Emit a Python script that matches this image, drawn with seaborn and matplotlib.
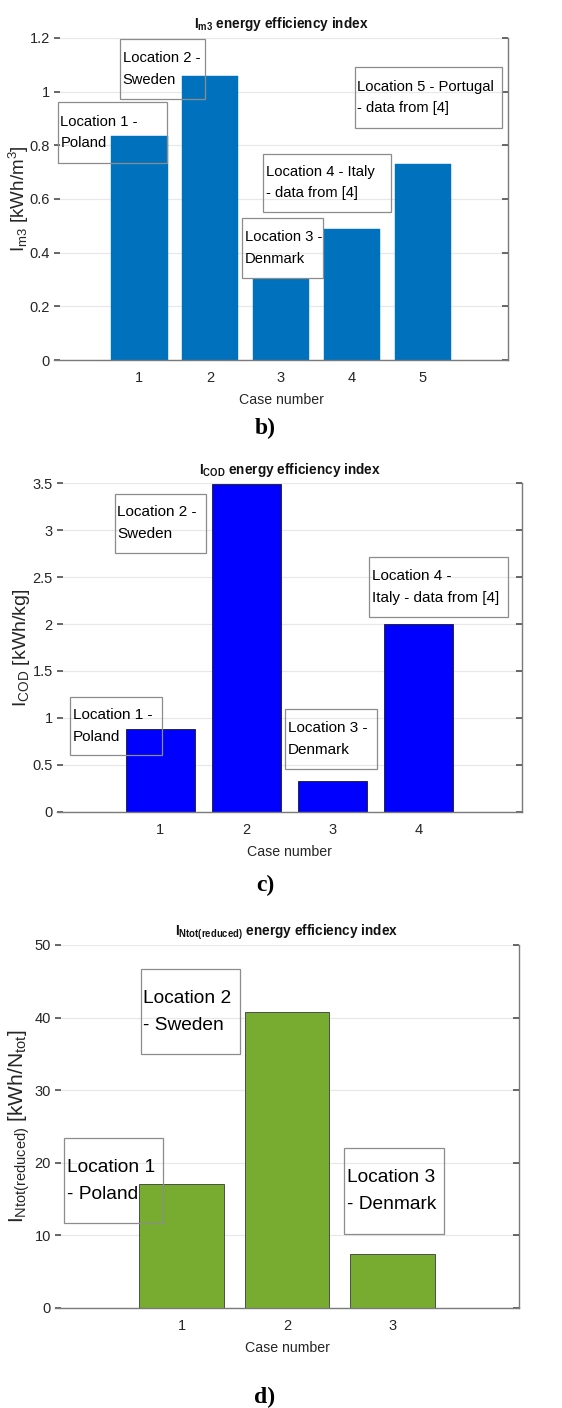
import numpy as np
import pandas as pd
import matplotlib
matplotlib.use("Agg")
import matplotlib.pyplot as plt
import seaborn as sns
from matplotlib.patches import Rectangle
from matplotlib.ticker import FuncFormatter

# ---------------- data ----------------
cases_b = [1, 2, 3, 4, 5]
im3_values = [0.835, 1.058, 0.30, 0.487, 0.73]
labels_b = ["Location 1 -\nPoland", "Location 2 -\nSweden", "Location 3 -\nDenmark",
            "Location 4 - Italy\n- data from [4]", "Location 5 - Portugal\n- data from [4]"]

cases_c = [1, 2, 3, 4]
icod_values = [0.88, 3.49, 0.33, 2.0]
labels_c = ["Location 1 -\nPoland", "Location 2 -\nSweden", "Location 3 -\nDenmark",
            "Location 4 -\nItaly - data from [4]"]

cases_d = [1, 2, 3]
intot_values = [17.0, 40.7, 7.4]
labels_d = ["Location 1\n- Poland", "Location 2\n- Sweden", "Location 3\n- Denmark"]

yticks_b = [0, 0.2, 0.4, 0.6, 0.8, 1.0, 1.2]
yticks_c = [0, 0.5, 1.0, 1.5, 2.0, 2.5, 3.0, 3.5]
yticks_d = [0, 10, 20, 30, 40, 50]

# annotation box layout (x0, x1, ytop, ybottom) in data units
boxes_b = [(-0.15, 1.39, 0.961, 0.734), (0.727, 1.929, 1.196, 0.973), (2.453, 3.598, 0.529, 0.306),
           (2.75, 4.546, 0.768, 0.552), (4.037, 6.116, 1.092, 0.865)]
boxes_c = [(-0.05, 1.023, 1.222, 0.604), (0.469, 1.531, 3.391, 2.762), (2.453, 3.514, 1.095, 0.455),
           (3.422, 5.037, 2.715, 2.075)]
boxes_d = [(-0.112, 0.826, 23.35, 11.64), (0.612, 1.551, 46.65, 34.93), (2.543, 3.488, 21.98, 10.16)]

# ---------------- style ----------------
sns.set_theme(style="white")
FAM = ["Liberation Sans", "DejaVu Sans"]
plt.rcParams["font.family"] = FAM
plt.rcParams["mathtext.fontset"] = "custom"
plt.rcParams["mathtext.rm"] = "Liberation Sans"
plt.rcParams["mathtext.it"] = "Liberation Sans"
plt.rcParams["mathtext.bf"] = "Liberation Sans:bold"

fig = plt.figure(figsize=(5.62, 14.08), dpi=100)
W, H = 562.0, 1408.0

def axes_px(x0, x1, ytop, ybot):
    return fig.add_axes([x0 / W, 1 - ybot / H, (x1 - x0) / W, (ybot - ytop) / H])

fmt = FuncFormatter(lambda v, p: "%g" % v)
TXT = "#262626"


def panel(ax, cases, vals, color, edge, lw, yticks, title, ylabel, labels, boxes,
          ann_size, ann_ls, ylab_size, ylab_pad):
    df = pd.DataFrame({"case": cases, "value": vals})
    sns.barplot(data=df, x="case", y="value", color=color, saturation=1,
                native_scale=True, width=0.8, edgecolor=edge, linewidth=lw, ax=ax, zorder=2)
    n = len(cases)
    ax.set_xlim(-0.2, n + 1.2)
    ax.set_ylim(yticks[0], yticks[-1])
    ax.set_xticks(cases)
    ax.set_yticks(yticks)
    ax.yaxis.set_major_formatter(fmt)
    ax.xaxis.set_major_formatter(fmt)
    ax.set_axisbelow(True)
    ax.yaxis.grid(True, color="#e8e8e8", lw=0.9)
    ax.xaxis.grid(False)
    for s in ["top", "left"]:
        ax.spines[s].set_visible(False)
    for s in ["bottom", "right"]:
        ax.spines[s].set_color("#7a7a7a")
        ax.spines[s].set_linewidth(1.0)
    ax.tick_params(axis="y", left=True, right=True, direction="in", length=4,
                   color="#555555", labelsize=10.5, labelcolor=TXT, pad=3)
    ax.tick_params(axis="x", bottom=True, direction="in", length=4,
                   color="#555555", labelsize=10.5, labelcolor=TXT, pad=8)
    ax.set_xlabel("Case number", fontsize=10.2, color=TXT, labelpad=6)
    ax.set_ylabel(ylabel, fontsize=ylab_size, color=TXT, labelpad=ylab_pad)
    ax.set_title(title, fontsize=9.8, fontweight="bold", color="#111111", pad=7)
    for lab, (x0, x1, yt, yb) in zip(labels, boxes):
        ax.add_patch(Rectangle((x0, yb), x1 - x0, yt - yb, fill=False,
                               edgecolor="#8c8c8c", lw=0.9, zorder=5, clip_on=False))
        ax.annotate(lab, xy=(x0, (yt + yb) / 2), xytext=(2, 0), textcoords="offset points",
                    ha="left", va="center", fontsize=ann_size, linespacing=ann_ls,
                    color="#000000", zorder=6, annotation_clip=False)


ax1 = axes_px(54, 508, 38, 360)
panel(ax1, cases_b, im3_values, "#0072BD", "#0072BD", 0.3, yticks_b,
      r"I$_{\mathbf{m3}}$ energy efficiency index",
      r"I$_{\mathrm{m3}}$ [kWh/m$^{3}$]", labels_b, boxes_b, 10.6, 1.65, 13.5, -1)

ax2 = axes_px(57, 522, 483.3, 811.7)
panel(ax2, cases_c, icod_values, "#0000FF", "#1a1a1a", 0.6, yticks_c,
      r"I$_{\mathbf{COD}}$ energy efficiency index",
      r"I$_{\mathrm{COD}}$ [kWh/kg]", labels_c, boxes_c, 11, 1.65, 14, 0)

ax3 = axes_px(55, 519, 945, 1307.7)
panel(ax3, cases_d, intot_values, "#77AC30", "#3a3a3a", 0.6, yticks_d,
      r"I$_{\mathbf{Ntot(reduced)}}$ energy efficiency index",
      r"I$_{\mathrm{Ntot(reduced)}}$ [kWh/N$_{\mathrm{tot}}$]", labels_d, boxes_d, 13.8, 1.75, 15, 2)

for lab, y in [("b)", 428), ("c)", 885), ("d)", 1397)]:
    fig.text(265 / W, 1 - y / H, lab, ha="center", va="center", fontsize=17,
             fontweight="bold", family=["Liberation Serif", "DejaVu Serif"], color="#000000")

fig.savefig("out.png", dpi=100, facecolor="white")
